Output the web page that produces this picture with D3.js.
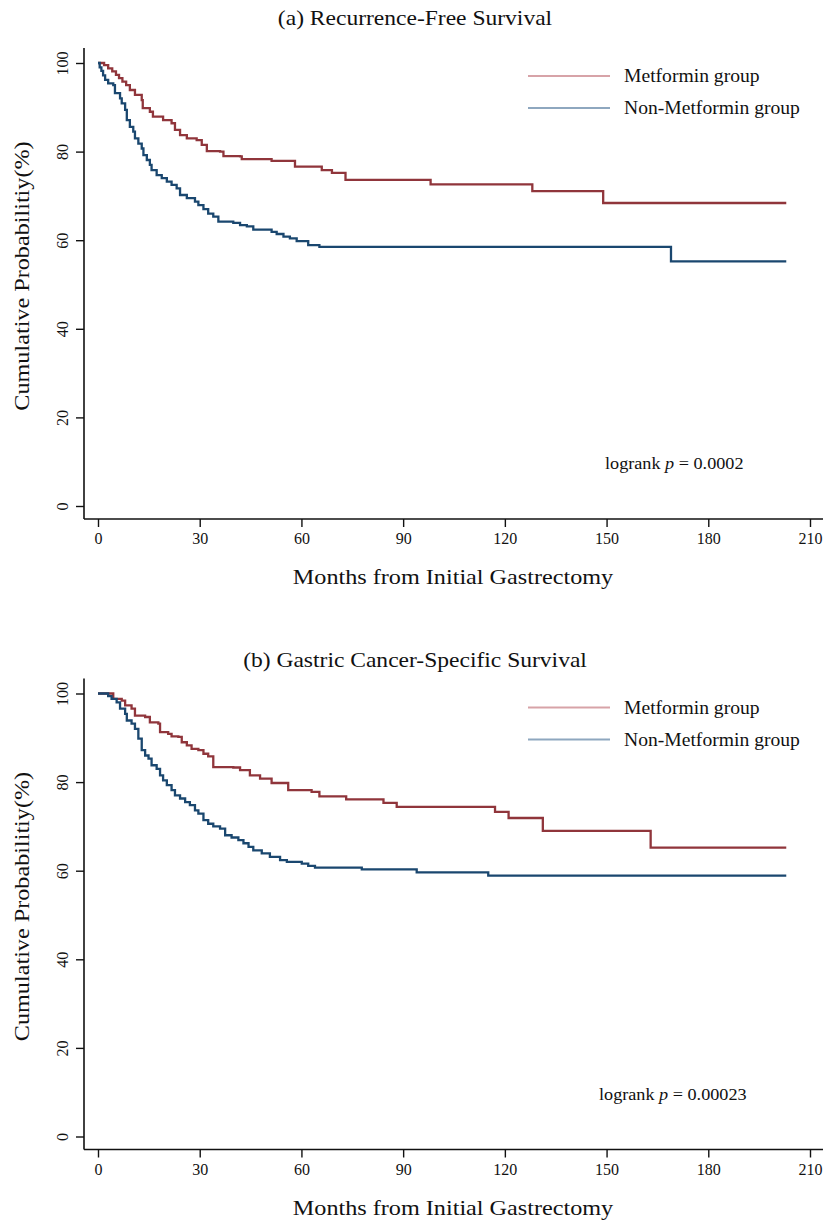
<!DOCTYPE html>
<html><head><meta charset="utf-8">
<script src="https://cdn.jsdelivr.net/npm/d3@7"></script>
<style>body{margin:0;background:#fff}svg{display:block}</style>
</head><body>
<script>
// ---- Data ----
const panelTitles = ["(a) Recurrence-Free Survival", "(b) Gastric Cancer-Specific Survival"];
const pValues = ["0.0002", "0.00023"];
const seriesNames = ["Metformin group", "Non-Metformin group"];
const xTicks = [0, 30, 60, 90, 120, 150, 180, 210];
const yTicks = [0, 20, 40, 60, 80, 100];

const rfsMetT = [0,1.8,3.0,4.2,5.3,6.2,7.2,8.3,9.4,10.9,12.9,13.2,15.3,16.2,19.2,21.7,22.7,24.2,26.2,29.1,30.6,32.1,36.0,37.0,41.9,42.4,51.2,58.1,66.0,69.0,73.0,98.1,128.1,149.0,203];
const rfsMetS = [100,99.5,98.8,98.1,97.3,96.6,95.8,95.0,93.9,92.8,91.6,89.8,89.0,87.9,87.1,86.4,84.9,83.7,83.0,82.6,81.5,80.1,80.0,79.0,78.9,78.3,77.9,76.6,75.8,75.2,73.6,72.6,71.1,68.4,68.4];
const rfsNonT = [0,0.5,1.0,1.5,2.1,3.0,4.5,5.0,6.5,7.0,8.0,8.5,9.4,10.4,10.9,11.9,12.9,13.4,14.4,15.3,15.8,17.3,18.8,20.3,21.7,23.2,24.2,26.2,28.6,29.6,31.1,32.5,34.0,35.5,39.9,41.9,43.9,45.8,51.2,52.7,54.7,56.6,58.6,62.0,65.3,169.0,203];
const rfsNonS = [100,99.0,98.2,97.2,96.2,95.4,95.0,93.2,92.0,90.9,89.4,87.1,85.6,84.5,83.0,81.8,80.7,79.2,78.1,77.0,75.8,74.7,74.0,73.2,72.5,71.7,70.2,69.5,68.7,67.9,67.0,66.0,65.3,64.2,63.9,63.4,63.1,62.4,61.9,61.4,60.8,60.4,59.8,58.9,58.5,55.2,55.2];

const gcsMetT = [0,4.5,7.0,8.0,9.9,10.9,13.9,15.3,17.8,18.3,20.7,21.7,23.7,24.7,26.2,27.6,29.6,31.1,32.5,34.0,39.9,41.9,44.8,47.8,51.2,56.1,63.0,65.3,73.2,84.2,88.1,117.1,121.1,131.2,163.0,203];
const gcsMetS = [100,98.8,98.4,97.3,96.6,95.0,94.7,93.5,93.2,91.3,90.9,90.3,90.2,89.0,88.3,87.5,87.2,86.4,85.8,83.4,83.3,82.7,81.5,80.8,79.8,78.2,77.8,76.8,76.1,75.3,74.4,73.3,71.9,69.0,65.2,65.2];
const gcsNonT = [0,3.0,4.0,5.5,6.5,8.0,8.5,9.9,10.9,11.9,12.9,13.9,14.9,15.8,17.3,18.3,19.2,20.3,21.7,22.7,24.2,25.7,27.1,28.6,29.6,31.1,32.5,34.0,36.0,37.5,39.4,41.4,42.9,44.4,45.8,48.3,50.7,53.7,55.7,60.1,62.0,64.0,77.8,94.0,115.1,203];
const gcsNonS = [100,99.4,98.8,98.0,96.6,95.4,93.9,93.2,92.0,89.8,87.2,86.0,85.3,83.8,83.0,81.5,80.4,79.3,78.2,77.0,76.3,75.5,74.8,73.6,72.9,71.4,70.6,70.0,69.5,68.0,67.5,66.9,66.2,65.4,64.6,63.9,63.1,62.4,62.0,61.6,61.1,60.7,60.3,59.6,58.9,58.9];

const panels = [
  { title: panelTitles[0], p: pValues[0], series: [
      { name: seriesNames[0], t: rfsMetT, s: rfsMetS },
      { name: seriesNames[1], t: rfsNonT, s: rfsNonS } ] },
  { title: panelTitles[1], p: pValues[1], series: [
      { name: seriesNames[0], t: gcsMetT, s: gcsMetS },
      { name: seriesNames[1], t: gcsNonT, s: gcsNonS } ] }
];

// ---- Style / layout ----
const W = 829, H = 1222;
const colors = ["#90353b", "#1a476f"];
const legendColors = ["#d7a3a8", "#8ea7bf"];
const serif = "'Liberation Serif', 'DejaVu Serif', serif";

const svg = d3.select("body").append("svg").attr("width", W).attr("height", H);

function label(g, str, x, y, size, sx, anchor, rot) {
  const t = g.append("text")
    .attr("transform", `translate(${x},${y})${rot ? " rotate(" + rot + ")" : ""} scale(${sx},1)`)
    .attr("text-anchor", anchor || "start")
    .attr("font-family", serif).attr("font-size", size).attr("fill", "#111");
  if (typeof str === "string") t.text(str);
  return t;
}

panels.forEach((pn, i) => {
  const off = i * 630.5;
  const g = svg.append("g").attr("transform", `translate(0,${off})`);
  const x = d3.scaleLinear().domain([0, 210]).range([98, 810]);
  const y = d3.scaleLinear().domain([0, 100]).range([506, 63]);
  const axisY = 519, axisX = 84;

  // title
  label(g, pn.title, 415, i === 0 ? 25 : 36, 22, 1.07, "middle");

  // x axis
  const xa = g.append("g").attr("transform", `translate(0,${axisY})`)
    .call(d3.axisBottom(x).tickValues(xTicks).tickSize(8).tickPadding(6).tickFormat(d3.format("d")));
  xa.select(".domain").attr("d", `M${axisX},0H823`);
  // y axis
  const ya = g.append("g").attr("transform", `translate(${axisX},0)`)
    .call(d3.axisLeft(y).tickValues(yTicks).tickSize(8).tickPadding(4));
  ya.select(".domain").attr("d", `M0,48V${axisY}`);
  ya.selectAll(".tick text").attr("transform", "rotate(-90)").attr("x", 0).attr("y", -22)
    .attr("dy", "0.35em").attr("text-anchor", "middle");
  [xa, ya].forEach(a => {
    a.selectAll(".domain").attr("stroke", "#111").attr("stroke-width", 1.6);
    a.selectAll(".tick line").attr("stroke", "#111").attr("stroke-width", 1.4);
    a.selectAll(".tick text").attr("font-family", serif).attr("font-size", 16).attr("fill", "#111");
  });

  // axis titles
  label(g, "Months from Initial Gastrectomy", 453, 584, 22, 1.1, "middle");
  label(g, "Cumulative Probabilitiy(%)", 29, 276, 22, 1.1, "middle", -90);

  // curves
  const line = d3.line().curve(d3.curveStepAfter).x(d => x(d[0])).y(d => y(d[1]));
  pn.series.forEach((s, k) => {
    const pts = s.t.map((t, j) => [t, s.s[j]]);
    g.append("path").attr("d", line(pts)).attr("fill", "none")
      .attr("stroke", colors[k]).attr("stroke-width", 2.3).attr("stroke-linejoin", "miter");
  });

  // legend
  pn.series.forEach((s, k) => {
    const ly = (i === 0 ? 76 : 77) + k * 32;
    g.append("line").attr("x1", 528).attr("x2", 610).attr("y1", ly).attr("y2", ly)
      .attr("stroke", legendColors[k]).attr("stroke-width", 2);
    label(g, s.name, 624, ly + 6, 18, 1.09, "start");
  });

  // logrank
  const lt = label(g, null, i === 0 ? 605 : 599, 469, 17, 1.07, "start");
  lt.append("tspan").text("logrank ");
  lt.append("tspan").attr("font-style", "italic").text("p");
  lt.append("tspan").text(" = " + pn.p);
});
</script>
</body></html>
